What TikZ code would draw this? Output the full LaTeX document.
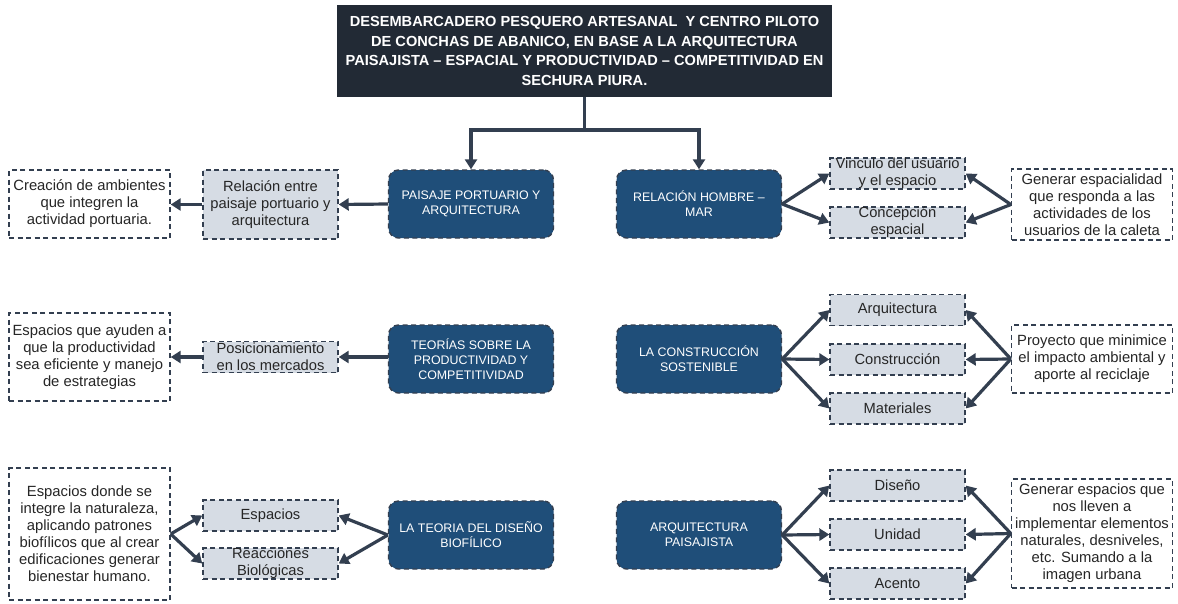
\documentclass[tikz,border=0pt]{standalone}
\usepackage{fontspec}
\setmainfont{Liberation Sans}
\usetikzlibrary{arrows.meta}
\definecolor{titlec}{HTML}{222A35}
\definecolor{bluec}{HTML}{1F4E79}
\definecolor{grayc}{HTML}{D6DCE4}
\definecolor{edgec}{HTML}{333F50}
\definecolor{arrc}{HTML}{333F50}
\tikzset{
  base/.style={align=center, inner sep=0pt, draw=edgec, line width=1.4pt, dash pattern=on 5pt off 3.5pt},
  titlebox/.style={fill=titlec, draw=none, text=white, font=\bfseries\fontsize{14.6}{19.5}\selectfont, minimum width=495pt, minimum height=92pt, align=center, inner sep=0pt},
  bluebox/.style={base, fill=bluec, rounded corners=10pt, text=white, font=\fontsize{12.4}{15}\selectfont, minimum width=165pt, minimum height=68pt},
  graybox/.style={base, fill=grayc, text=black!85, font=\fontsize{14.7}{17}\selectfont, minimum width=135pt, minimum height=31pt},
  notebox/.style={base, fill=white, text=black!85, font=\fontsize{14.8}{17}\selectfont, minimum width=161pt},
  arr/.style={draw=arrc, line width=3.2pt, -{Triangle[length=10pt,width=12pt]}},
}
\begin{document}
\begin{tikzpicture}[x=1pt,y=-1pt]
\fill[white] (0,0) rectangle (1178,603);
\useasboundingbox (0,0) rectangle (1178,603);

\node[titlebox] (title) at (584.5,51) {DESEMBARCADERO PESQUERO ARTESANAL\ \ Y CENTRO PILOTO\\DE CONCHAS DE ABANICO, EN BASE A LA ARQUITECTURA\\PAISAJISTA – ESPACIAL Y PRODUCTIVIDAD – COMPETITIVIDAD EN\\SECHURA PIURA.};

% row 1
\node[bluebox] (b1) at (471,204) {PAISAJE PORTUARIO Y\\ARQUITECTURA};
\node[bluebox] (b2) at (699,204) {RELACIÓN HOMBRE –\\MAR};
\node[graybox, minimum height=69pt] (g1) at (270.5,204.5) {Relación entre\\paisaje portuario y\\arquitectura};
\node[notebox, minimum height=68pt] (n1) at (89.5,204) {Creación de ambientes\\que integren la\\actividad portuaria.};
\node[graybox] (g2) at (897.5,173.5) {Vinculo del usuario\\y el espacio};
\node[graybox] (g3) at (897.5,222.5) {Concepción\\espacial};
\node[notebox, minimum height=71pt] (n2) at (1092,204.5) {Generar espacialidad\\que responda a las\\actividades de los\\usuarios de la caleta};

% row 2
\node[bluebox] (b3) at (471,359) {TEORÍAS SOBRE LA\\PRODUCTIVIDAD Y\\COMPETITIVIDAD};
\node[bluebox] (b4) at (699,359) {LA CONSTRUCCIÓN\\SOSTENIBLE};
\node[graybox] (g4) at (270.5,357) {Posicionamiento\\en los mercados};
\node[notebox, minimum height=88pt] (n3) at (89.5,357) {Espacios que ayuden a\\que la productividad\\sea eficiente y manejo\\de estrategias};
\node[graybox] (g5) at (897.5,310) {Arquitectura};
\node[graybox] (g6) at (897.5,359.5) {Construcción};
\node[graybox] (g7) at (897.5,408.5) {Materiales};
\node[notebox, minimum height=68pt] (n4) at (1092,359) {Proyecto que minimice\\el impacto ambiental y\\aporte al reciclaje};

% row 3
\node[bluebox] (b5) at (471,535) {LA TEORIA DEL DISEÑO\\BIOFÍLICO};
\node[bluebox] (b6) at (699,535) {ARQUITECTURA\\PAISAJISTA};
\node[graybox] (g8) at (270.5,515.5) {Espacios};
\node[graybox] (g9) at (270.5,563.5) {Reacciones\\Biológicas};
\node[notebox, minimum height=132pt] (n5) at (89.5,534) {Espacios donde se\\integre la naturaleza,\\aplicando patrones\\biofílicos que al crear\\edificaciones generar\\bienestar humano.};
\node[graybox] (g10) at (897.5,485.5) {Diseño};
\node[graybox] (g11) at (897.5,534.5) {Unidad};
\node[graybox] (g12) at (897.5,583.5) {Acento};
\node[notebox, minimum height=109pt] (n6) at (1092,533.5) {Generar espacios que\\nos lleven a\\implementar elementos\\naturales, desniveles,\\etc. Sumando a la\\imagen urbana};

% title connectors
\coordinate (jn) at (584.5,130);
\draw[draw=arrc, line width=3.2pt] (title.south) -- (jn);
\draw[arr] (jn) -| (b1.north);
\draw[arr] (jn) -| (b2.north);

% row 1
\draw[arr] (b1.west) -- (g1.east);
\draw[arr] (g1.west) -- (g1.west -| n1.east);
\draw[arr] (b2.east) -- (g2.west);
\draw[arr] (b2.east) -- (g3.west);
\draw[arr] (n2.west) -- (g2.east);
\draw[arr] (n2.west) -- (g3.east);

% row 2
\draw[arr] (b3.west |- g4.east) -- (g4.east);
\draw[arr] (g4.west) -- (g4.west -| n3.east);
\draw[arr] (b4.east) -- (g5.west);
\draw[arr] (b4.east) -- (g6.west);
\draw[arr] (b4.east) -- (g7.west);
\draw[arr] (n4.west) -- (g5.east);
\draw[arr] (n4.west) -- (g6.east);
\draw[arr] (n4.west) -- (g7.east);

% row 3
\draw[arr] (b5.west) -- (g8.east);
\draw[arr] (b5.west) -- (g9.east);
\draw[arr] (n5.east) -- (g8.west);
\draw[arr] (n5.east) -- (g9.west);
\draw[arr] (b6.east) -- (g10.west);
\draw[arr] (b6.east) -- (g11.west);
\draw[arr] (b6.east) -- (g12.west);
\draw[arr] (n6.west) -- (g10.east);
\draw[arr] (n6.west) -- (g11.east);
\draw[arr] (n6.west) -- (g12.east);
\end{tikzpicture}
\end{document}
